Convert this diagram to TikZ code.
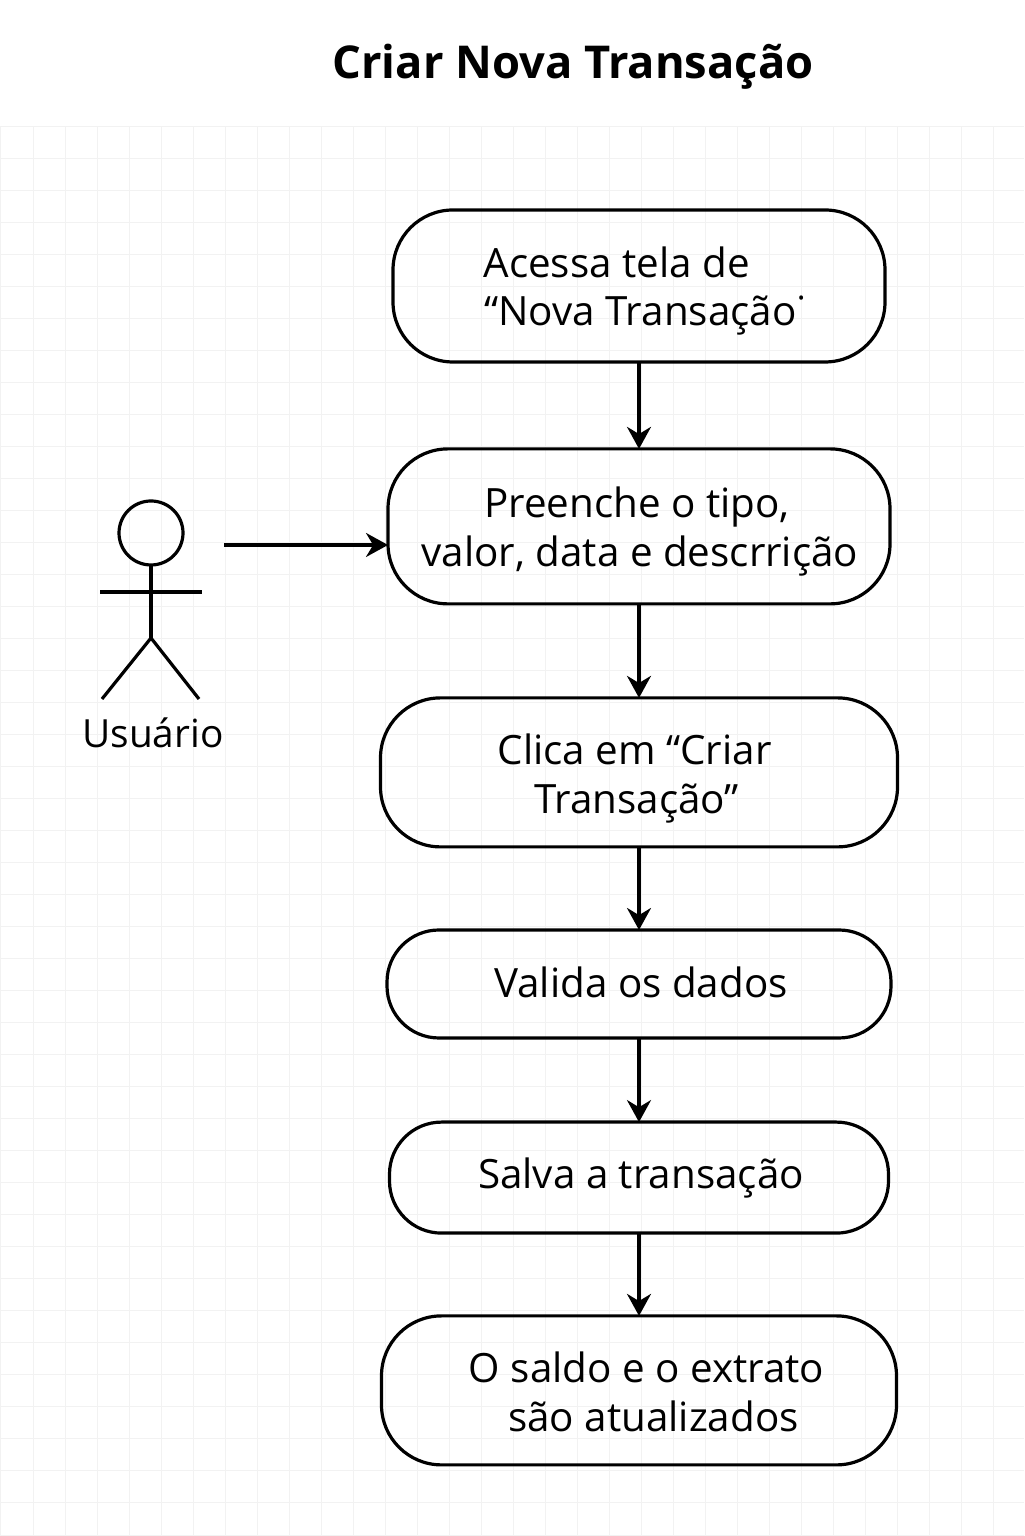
\documentclass[tikz,border=0pt]{standalone}
\usepackage{fontspec}
\setmainfont{Open Sans}
\usetikzlibrary{arrows.meta}
\tikzset{
  flowbox/.style={draw,line width=0.8mm,rounded corners=#1,align=center,inner sep=0pt,outer sep=0pt,
    font=\fontsize{28.7}{34.5}\selectfont},
  flowbox/.default=15mm,
  flowarrow/.style={-{Stealth[length=5.5mm,width=6mm]},line width=0.8mm},
  actorline/.style={line width=0.8mm}
}
\begin{document}
\begin{tikzpicture}
  \useasboundingbox (0,0) rectangle (256mm,384mm);
  % background grid
  \foreach \x in {0,8,...,248}
    \draw [black!5,line width=0.25mm] (\x mm+0.25mm,0) -- (\x mm+0.25mm,352.25mm);
  \foreach \y in {0,8,...,352}
    \draw [black!5,line width=0.25mm] (0,\y mm+0.25mm) -- (256mm,\y mm+0.25mm);
  \node (title) at (143.25mm,367.25mm) {\fontsize{32.2}{38}\selectfont\bfseries Criar Nova Transação};
  % flow
  \node [flowbox,minimum width=123mm,minimum height=38mm] (acessa) at (159.75mm,312.5mm)
    {\rule{0pt}{10.3mm}\hspace*{-11.2mm}Acessa tela de\\\hspace*{3.3mm}“Nova Transação˙};
  \node [flowbox,minimum width=125.5mm,minimum height=38.75mm] (preenche) at (159.75mm,252.4mm)
    {\rule{0pt}{10.3mm}\hspace*{-1mm}Preenche o tipo,\\\hspace*{0.5mm}valor, data e descrrição};
  \node [flowbox,minimum width=129.25mm,minimum height=37.25mm] (clica) at (159.75mm,190.9mm)
    {\rule{0pt}{10.8mm}\hspace*{-2.2mm}Clica em “Criar\\\hspace*{-1.2mm}Transação”};
  \node [flowbox=13mm,minimum width=126mm,minimum height=27mm] (valida) at (159.75mm,138mm)
    {\hspace*{1mm}Valida os dados\rule[-1mm]{0pt}{0pt}};
  \node [flowbox=13mm,minimum width=124.75mm,minimum height=27.75mm] (salva) at (159.75mm,89.6mm)
    {\hspace*{1mm}Salva a transação};
  \node [flowbox,minimum width=128.75mm,minimum height=37.25mm] (saldo) at (159.75mm,36.4mm)
    {\rule{0pt}{8.3mm}\hspace*{3.75mm}O saldo e o extrato\\\hspace*{7.25mm}são atualizados};
  \draw [flowarrow] (acessa) -- (preenche);
  \draw [flowarrow] (preenche) -- (clica);
  \draw [flowarrow] (clica) -- (valida);
  \draw [flowarrow] (valida) -- (salva);
  \draw [flowarrow] (salva) -- (saldo);
  % actor
  \node [draw,circle,actorline,minimum size=16mm,inner sep=0pt,outer sep=0pt] (cabeca) at (37.75mm,250.75mm) {};
  \coordinate (quadril) at (37.75mm,224.5mm);
  \draw [actorline] (cabeca) -- (quadril);
  \draw [actorline] (25mm,236mm) -- (50.5mm,236mm);
  \draw [actorline] (25.5mm,209.25mm) -- (quadril) -- (49.75mm,209.25mm);
  \node [font=\fontsize{27.6}{34.5}\selectfont] (usuario) at (38.25mm,200.75mm) {Usuário};
  \coordinate (saida) at (56mm,247.75mm);
  \draw [flowarrow] (saida) -- (saida -| preenche.west);
\end{tikzpicture}
\end{document}
